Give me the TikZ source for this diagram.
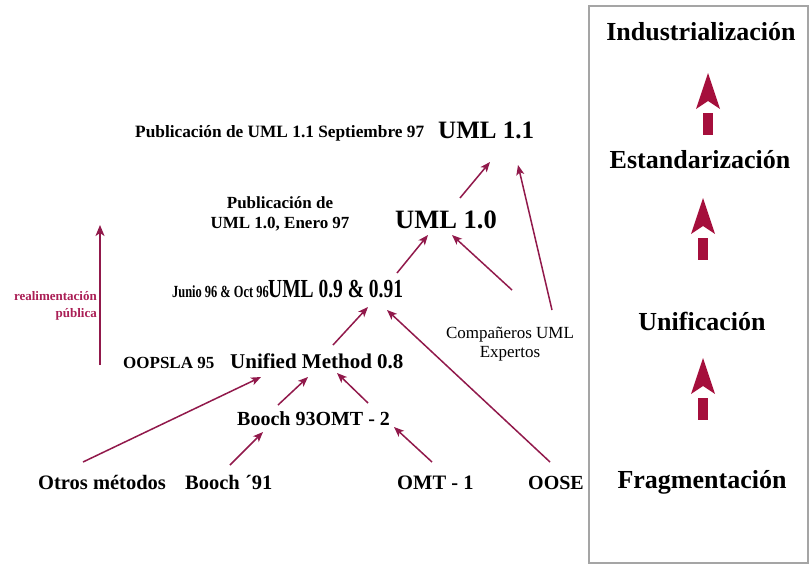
\documentclass[tikz,border=0pt]{standalone}
\usepackage{fontspec}
\setmainfont{Liberation Serif}
\usepackage{graphicx}
\usetikzlibrary{arrows.meta}

\definecolor{linkred}{RGB}{145,25,75}
\definecolor{feedred}{RGB}{170,30,85}
\definecolor{blockred}{RGB}{165,15,60}
\definecolor{framegray}{RGB}{165,165,165}

\newcommand\fsz[1]{\fontsize{#1}{#1}\selectfont}

% solid upward block arrow of the right-hand stage column: centre x, tip y
\newcommand\risearrow[2]{%
  \fill[blockred] (#1,#2) -- (#1+12,#2+36) -- (#1,#2+28) -- (#1-12,#2+36) -- cycle;
  \fill[blockred] (#1-5,#2+40) rectangle (#1+5,#2+62);
}

\begin{document}
\begin{tikzpicture}[x=1pt,y=-1pt,
  lbl/.style={inner sep=0pt, font=\bfseries},
  stage/.style={inner sep=0pt, anchor=base, font=\bfseries\fsz{26}},
  link/.style={draw=linkred, line width=1.5pt,
    -{Stealth[length=10pt,width=8pt,inset=2.5pt]}},
]
\useasboundingbox (0,0) rectangle (811,565);

% ---------- history of the methods ----------
\node[lbl, anchor=base west, font=\bfseries\fsz{20.5}] (otros)   at (38,489)  {Otros métodos};
\node[lbl, anchor=base west, font=\bfseries\fsz{20.5}] (booch91) at (185,489) {Booch ´91};
\node[lbl, anchor=base west, font=\bfseries\fsz{20.5}] (omt1)    at (397,489) {OMT - 1};
\node[lbl, anchor=base west, font=\bfseries\fsz{20}]   (oose)    at (528,489) {OOSE};

\node[lbl, anchor=base west, font=\bfseries\fsz{20}]   (booch93) at (237,425) {Booch 93OMT - 2};

\node[lbl, anchor=base west, font=\bfseries\fsz{17}]   (oopsla)  at (123,368) {OOPSLA 95};
\node[lbl, anchor=base west, font=\bfseries\fsz{21}]   (unified) at (230,368) {Unified Method 0.8};

\node[lbl, anchor=base west, font=\bfseries\fsz{17}]   (junio)   at (172,297) {\scalebox{0.73}[1]{Junio 96 \& Oct 96}};
\node[lbl, anchor=base west, font=\bfseries\fsz{26}]   (uml09)   at (268,297) {\scalebox{0.75}[1]{UML 0.9 \& 0.91}};

\node[lbl, anchor=base, font=\bfseries\fsz{17}]        (pub10a)  at (280,208) {Publicación de};
\node[lbl, anchor=base, font=\bfseries\fsz{17}]        (pub10b)  at (280,228) {UML 1.0, Enero 97};
\node[lbl, anchor=base west, font=\bfseries\fsz{26.5}] (uml10)   at (395,228) {UML 1.0};

\node[lbl, anchor=base west, font=\bfseries\fsz{17.3}] (pub11)   at (135,137) {Publicación de UML 1.1 Septiembre 97};
\node[lbl, anchor=base west, font=\bfseries\fsz{25}]   (uml11)   at (438,138) {UML 1.1};

\node[inner sep=0pt, anchor=base, font=\fsz{17}] (compa)  at (510,338) {Compañeros UML};
\node[inner sep=0pt, anchor=base, font=\fsz{17}] (expert) at (510,357) {Expertos};

\node[lbl, anchor=base east, text=feedred, font=\bfseries\fsz{13}] (realim) at (97,300) {realimentación};
\node[lbl, anchor=base east, text=feedred, font=\bfseries\fsz{13}] (publica) at (97,317) {pública};

% ---------- connectors ----------
\draw[link] ([shift={(45,-27)}]otros.base west)    -- ([shift={(31,9)}]unified.base west);
\draw[link] ([shift={(45,-24)}]booch91.base west)  -- ([shift={(26,7)}]booch93.base west);
\draw[link] ([shift={(41,-20)}]booch93.base west)  -- ([shift={(78,9)}]unified.base west);
\draw[link] ([shift={(131,-22)}]booch93.base west) -- ([shift={(107,5)}]unified.base west);
\draw[link] ([shift={(35,-27)}]omt1.base west)     -- ([shift={(157,2)}]booch93.base west);
\draw[link] ([shift={(22,-27)}]oose.base west)     -- ([shift={(119,13)}]uml09.base west);
\draw[link] ([shift={(103,-23)}]unified.base west) -- ([shift={(100,10)}]uml09.base west);
\draw[link] ([shift={(129,-24)}]uml09.base west)   -- ([shift={(33,7)}]uml10.base west);
\draw[link] ([shift={(2,-48)}]compa.base)          -- ([shift={(57,7)}]uml10.base west);
\draw[link] ([shift={(42,-28)}]compa.base)         -- ([shift={(80,27)}]uml11.base west);
\draw[link] ([shift={(65,-30)}]uml10.base west)    -- ([shift={(52,24)}]uml11.base west);

% public feedback
\draw[draw=linkred, line width=1.8pt, -{Stealth[length=11pt,width=9pt,inset=3pt]}]
  ([shift={(3,65)}]realim.base east) -- ([shift={(3,-75)}]realim.base east);

% ---------- stage column ----------
\draw[framegray, line width=1.6pt] (589,6) rectangle (808,563);

\node[stage] (ind) at (701,40)  {Industrialización};
\node[stage] (est) at (700,168) {Estandarización};
\node[stage] (uni) at (702,330) {Unificación};
\node[stage] (fra) at (702,488) {Fragmentación};

\risearrow{708}{73}
\risearrow{703}{198}
\risearrow{703}{358}
\end{tikzpicture}
\end{document}
